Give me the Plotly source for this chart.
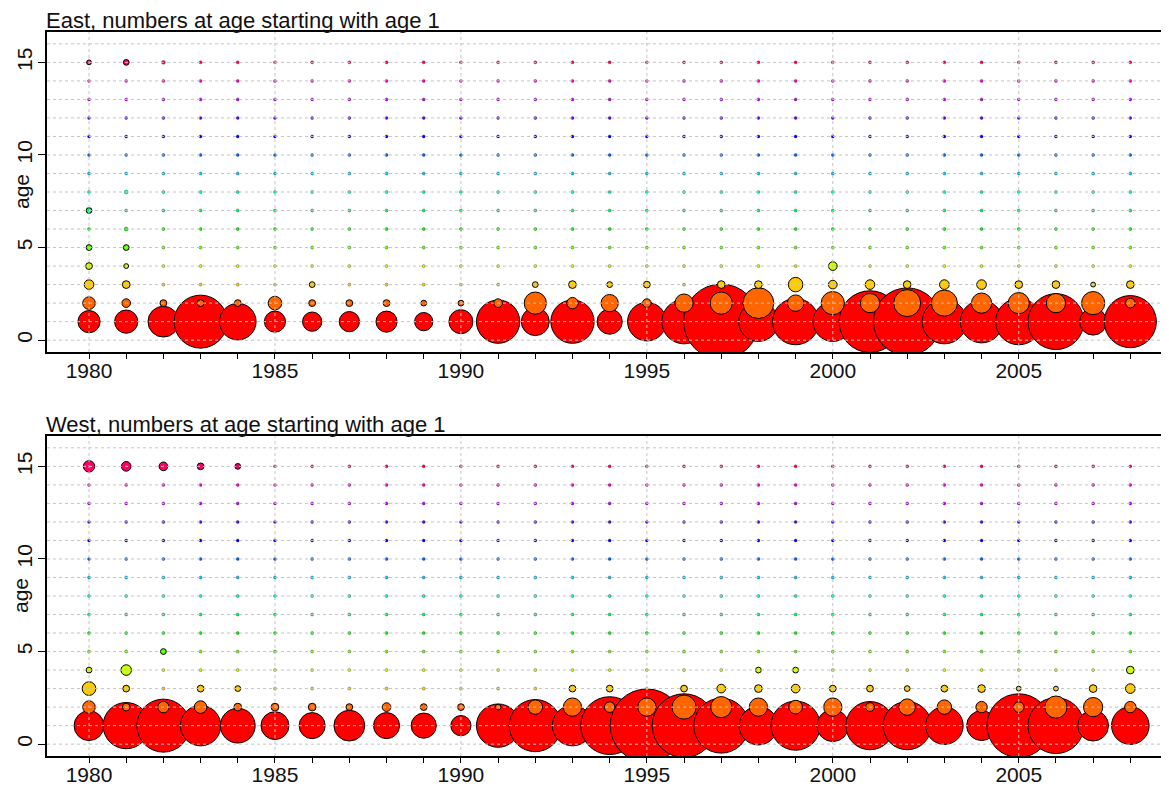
import colorsys
import plotly.graph_objects as go

years = list(range(1980, 2009))
ages = list(range(1, 16))
panel_titles = ["East, numbers at age starting with age 1",
                "West, numbers at age starting with age 1"]
x_tick_labels = ["1980", "1985", "1990", "1995", "2000", "2005"]
y_tick_labels = ["0", "5", "10", "15"]

# ---- East: numbers at age (arbitrary units), one list per age, years 1980..2008
east_age1 = [53, 58, 102, 302, 144, 48, 40, 44, 48, 36, 62, 202, 84, 202, 68, 160, 212, 608, 168, 230,
             168, 410, 490, 212, 194, 230, 336, 78, 292]
east_age2 = [17, 8, 5, 5, 5, 20, 5, 5, 5, 3.6, 3.6, 8, 53, 14, 32, 8, 36, 53, 102, 29,
             58, 40, 78, 73, 44, 48, 40, 58, 10]
east_age3 = [10, 6.4, 0.9, 0.4, 0.4, 0.4, 3.6, 0.9, 0.9, 0.9, 0.4, 0.9, 3.6, 6.4, 3.6, 4.9, 0.9, 6.4, 6.4, 22.5,
             8.1, 10, 6.4, 10, 10, 6.4, 6.4, 2.5, 6.4]
east_age4 = [4.9, 2.5, 0.9, 0.4, 0.4, 0.4, 0.4, 0.4, 0.4, 0.4, 0.4, 0.4, 0.4, 0.4, 0.9, 0.4, 0.4, 0.5, 0.4, 0.6,
             8.1, 0.4, 0.6, 0.4, 0.9, 0.5, 0.4, 0.4, 0.4]
east_age5 = [3.6, 3.6, 0.9, 0.5, 0.4, 0.4, 0.4, 0.4, 0.4, 0.3, 0.3, 0.4, 0.4, 0.4, 0.4, 0.4, 0.4, 0.5, 0.4, 0.5,
             0.4, 0.5, 0.4, 0.5, 0.4, 0.4, 0.4, 0.5, 0.4]
east_age6 = [0.9, 1.6, 0.5, 0.5, 0.4, 0.5, 0.4, 0.5, 0.4, 0.4, 0.4, 0.5, 0.4, 0.5, 0.4, 0.5, 0.4, 0.5, 0.4, 0.5,
             0.4, 0.5, 0.4, 0.5, 0.4, 0.5, 0.4, 0.5, 0.4]
east_age7 = [3.6, 0.9, 0.5, 0.5, 0.4, 0.5, 0.4, 0.5, 0.4, 0.4, 0.4, 0.5, 0.4, 0.5, 0.4, 0.5, 0.4, 0.5, 0.4, 0.5,
             0.4, 0.5, 0.4, 0.5, 0.4, 0.5, 0.4, 0.5, 0.4]
east_age8 = [0.4, 1.6, 0.5, 0.5, 0.4, 0.5, 0.4, 0.5, 0.4, 0.4, 0.4, 0.5, 0.4, 0.5, 0.4, 0.5, 0.4, 0.5, 0.4, 0.5,
             0.4, 0.5, 0.4, 0.5, 0.4, 0.5, 0.4, 0.5, 0.4]
east_age9 = [0.4, 0.6, 0.5, 0.6, 0.4, 0.5, 0.4, 0.6, 0.4, 0.4, 0.4, 0.5, 0.4, 0.5, 0.4, 0.5, 0.4, 0.6, 0.4, 0.5,
             0.4, 0.6, 0.4, 0.6, 0.4, 0.5, 0.4, 0.6, 0.4]
east_age10 = [0.4, 0.6, 0.5, 0.6, 0.4, 0.5, 0.4, 0.6, 0.4, 0.4, 0.4, 0.5, 0.4, 0.5, 0.4, 0.5, 0.4, 0.6, 0.4, 0.5,
              0.4, 0.6, 0.4, 0.6, 0.4, 0.5, 0.4, 0.6, 0.4]
east_age11 = [0.4, 0.7, 0.5, 0.7, 0.4, 0.6, 0.4, 0.6, 0.4, 0.4, 0.4, 0.6, 0.4, 0.5, 0.4, 0.6, 0.4, 0.6, 0.4, 0.6,
              0.4, 0.6, 0.4, 0.6, 0.4, 0.6, 0.4, 0.6, 0.4]
east_age12 = [0.4, 0.7, 0.5, 0.7, 0.4, 0.5, 0.4, 0.6, 0.4, 0.4, 0.4, 0.6, 0.4, 0.5, 0.4, 0.5, 0.4, 0.6, 0.4, 0.6,
              0.4, 0.6, 0.4, 0.6, 0.4, 0.5, 0.4, 0.6, 0.4]
east_age13 = [0.4, 0.7, 0.5, 0.7, 0.4, 0.5, 0.4, 0.6, 0.4, 0.4, 0.4, 0.5, 0.4, 0.5, 0.4, 0.5, 0.4, 0.6, 0.4, 0.6,
              0.4, 0.6, 0.4, 0.6, 0.4, 0.5, 0.4, 0.6, 0.4]
east_age14 = [0.4, 0.7, 0.5, 0.7, 0.4, 0.5, 0.4, 0.6, 0.4, 0.4, 0.4, 0.5, 0.4, 0.5, 0.4, 0.5, 0.4, 0.6, 0.4, 0.6,
              0.4, 0.6, 0.4, 0.6, 0.4, 0.5, 0.4, 0.6, 0.4]
east_age15 = [2.5, 3.6, 1.6, 0.9, 0.4, 0.5, 0.4, 0.6, 0.4, 0.4, 0.4, 0.5, 0.4, 0.5, 0.4, 0.6, 0.4, 0.6, 0.4, 0.6,
              0.4, 0.6, 0.4, 0.6, 0.4, 0.6, 0.4, 0.6, 0.4]

# ---- West
west_age1 = [96, 230, 302, 176, 130, 84, 73, 102, 73, 68, 44, 202, 292, 176, 360, 578, 436, 325, 160, 260,
             109, 250, 250, 152, 96, 436, 336, 102, 152]
west_age2 = [17, 6.4, 14, 17, 6.4, 6.4, 6.4, 4.9, 8.1, 4.9, 4.9, 3.6, 22.5, 36, 12, 36, 62, 48, 36, 20,
             36, 8.1, 29, 22.5, 14, 12, 53, 40, 14]
west_age3 = [20, 4.9, 0.9, 4.9, 3.6, 0.4, 0.9, 0.9, 0.9, 0.9, 0.4, 0.4, 0.4, 4.9, 4.9, 0.9, 4.9, 8.1, 6.4, 8.1,
             4.9, 4.9, 3.6, 4.9, 6.4, 2.5, 2.5, 6.4, 10]
west_age4 = [3.6, 12, 0.9, 0.4, 0.4, 0.4, 0.4, 0.4, 0.4, 0.4, 0.4, 0.4, 0.4, 0.4, 0.9, 0.9, 0.4, 0.9, 3.6, 3.6,
             0.4, 0.4, 0.9, 0.4, 0.9, 0.9, 0.4, 0.4, 6.4]
west_age5 = [0.4, 0.9, 3.6, 0.5, 0.4, 0.4, 0.4, 0.4, 0.4, 0.3, 0.3, 0.4, 0.4, 0.4, 0.4, 0.4, 0.4, 0.5, 0.4, 0.5,
             0.4, 0.5, 0.4, 0.5, 0.4, 0.4, 0.4, 0.5, 0.4]
west_age6 = [0.4, 0.6, 0.5, 0.9, 0.4, 0.6, 0.4, 0.5, 0.4, 0.4, 0.4, 0.5, 0.4, 0.5, 0.4, 0.5, 0.4, 0.5, 0.4, 0.5,
             0.4, 0.5, 0.4, 0.5, 0.4, 0.5, 0.4, 0.5, 0.4]
west_age7 = [0.4, 0.6, 0.5, 0.6, 0.4, 0.5, 0.4, 0.5, 0.4, 0.4, 0.4, 0.5, 0.4, 0.5, 0.4, 0.5, 0.4, 0.5, 0.4, 0.5,
             0.4, 0.5, 0.4, 0.5, 0.4, 0.5, 0.4, 0.5, 0.4]
west_age8 = [0.4, 0.6, 0.5, 0.6, 0.4, 0.5, 0.4, 0.6, 0.4, 0.4, 0.4, 0.5, 0.4, 0.5, 0.4, 0.5, 0.4, 0.5, 0.4, 0.5,
             0.4, 0.5, 0.4, 0.5, 0.4, 0.5, 0.4, 0.5, 0.4]
west_age9 = [0.4, 0.6, 0.5, 0.6, 0.4, 0.5, 0.4, 0.6, 0.4, 0.4, 0.4, 0.5, 0.4, 0.5, 0.4, 0.5, 0.4, 0.6, 0.4, 0.5,
             0.4, 0.6, 0.4, 0.6, 0.4, 0.5, 0.4, 0.6, 0.4]
west_age10 = [0.4, 0.7, 0.5, 0.6, 0.4, 0.6, 0.4, 0.6, 0.4, 0.4, 0.4, 0.5, 0.4, 0.5, 0.4, 0.5, 0.4, 0.6, 0.4, 0.5,
              0.4, 0.6, 0.4, 0.6, 0.4, 0.5, 0.4, 0.6, 0.4]
west_age11 = [0.4, 0.7, 0.5, 0.7, 0.4, 0.7, 0.4, 0.6, 0.4, 0.4, 0.4, 0.6, 0.4, 0.5, 0.4, 0.6, 0.4, 0.6, 0.4, 0.6,
              0.4, 0.6, 0.4, 0.6, 0.4, 0.6, 0.4, 0.6, 0.4]
west_age12 = [0.4, 0.7, 0.5, 0.7, 0.4, 0.6, 0.4, 0.6, 0.4, 0.4, 0.4, 0.6, 0.4, 0.5, 0.4, 0.5, 0.4, 0.6, 0.4, 0.6,
              0.4, 0.6, 0.4, 0.6, 0.4, 0.5, 0.4, 0.6, 0.4]
west_age13 = [0.4, 0.7, 0.5, 0.7, 0.4, 0.5, 0.4, 0.6, 0.4, 0.4, 0.4, 0.5, 0.4, 0.5, 0.4, 0.5, 0.4, 0.6, 0.4, 0.6,
              0.4, 0.6, 0.4, 0.6, 0.4, 0.5, 0.4, 0.6, 0.4]
west_age14 = [0.5, 0.7, 0.5, 0.7, 0.5, 0.6, 0.4, 0.6, 0.4, 0.4, 0.4, 0.5, 0.4, 0.5, 0.4, 0.5, 0.4, 0.6, 0.4, 0.6,
              0.4, 0.6, 0.4, 0.6, 0.4, 0.5, 0.4, 0.6, 0.4]
west_age15 = [14, 10, 8.1, 4.9, 3.6, 0.5, 0.4, 0.6, 0.4, 0.4, 0.4, 0.5, 0.4, 0.5, 0.4, 0.6, 0.4, 0.6, 0.4, 0.6,
              0.4, 0.6, 0.4, 0.6, 0.4, 0.6, 0.4, 0.6, 0.4]

east = [east_age1, east_age2, east_age3, east_age4, east_age5, east_age6, east_age7, east_age8,
        east_age9, east_age10, east_age11, east_age12, east_age13, east_age14, east_age15]
west = [west_age1, west_age2, west_age3, west_age4, west_age5, west_age6, west_age7, west_age8,
        west_age9, west_age10, west_age11, west_age12, west_age13, west_age14, west_age15]


def rainbow(i, n):
    r, g, b = colorsys.hsv_to_rgb(i / n, 1, 1)
    return "rgb(%d,%d,%d)" % (round(r * 255), round(g * 255), round(b * 255))


FONT = "Liberation Sans, Arial, sans-serif"
SIZEREF = 0.215

fig = go.Figure()
for p, data in enumerate([east, west]):
    xa = "x" if p == 0 else "x2"
    ya = "y" if p == 0 else "y2"
    for i, age in enumerate(ages):
        vals = data[i]
        fig.add_trace(go.Scatter(
            x=years, y=[age] * len(years), mode="markers",
            xaxis=xa, yaxis=ya, showlegend=False,
            marker=dict(size=vals, sizemode="area", sizeref=SIZEREF, sizemin=1.5,
                        color=rainbow(i, len(ages)), opacity=1,
                        line=dict(color="black", width=[1 if v >= 2 else 0.3 for v in vals])),
            hovertemplate="year %{x}<br>age %{y}<extra></extra>",
        ))

xr = [1978.87, 2009.04]
yr = [-0.64, 16.64]
tickvals_x = years
ticktext_x = [str(y) if str(y) in x_tick_labels else "" for y in years]
tickvals_y = [int(t) for t in y_tick_labels]

common_x = dict(range=xr, tickmode="array", tickvals=tickvals_x, ticktext=ticktext_x,
                ticks="outside", ticklen=5, tickwidth=1, tickcolor="black",
                showline=True, linecolor="black", linewidth=1.5, mirror=True,
                showgrid=False, zeroline=False, automargin=False, ticklabelstandoff=-6,
                tickfont=dict(family=FONT, size=21, color="#111"))
common_y = dict(range=yr, tickmode="array", tickvals=tickvals_y, ticktext=y_tick_labels,
                ticks="outside", ticklen=7, tickwidth=1, tickcolor="black", tickangle=-90,
                showline=True, linecolor="black", linewidth=1.5, mirror=False,
                showgrid=False, zeroline=False, automargin=False, ticklabelstandoff=-2,
                tickfont=dict(family=FONT, size=21, color="#111"))

# the page body adds an 8px offset; the figure is sized to compensate
fig.update_layout(
    width=1161, height=778,
    margin=dict(l=39, r=0, t=24, b=30, autoexpand=False),
    paper_bgcolor="white", plot_bgcolor="white",
    xaxis=dict(domain=[0, 1], anchor="y", **common_x),
    yaxis=dict(domain=[0.558, 1], anchor="x", **common_y),
    xaxis2=dict(domain=[0, 1], anchor="y2", **common_x),
    yaxis2=dict(domain=[0, 0.442], anchor="x2", **common_y),
)

# dotted grid drawn above the bubbles
grid = dict(color="#c4c4c4", width=1, dash="3px,3px")
shapes = []
annotations = []
for p in range(2):
    xs = "x" if p == 0 else "x2"
    ys = "y" if p == 0 else "y2"
    for gy in range(0, 17):
        shapes.append(dict(type="line", layer="above", xref=xs + " domain", yref=ys,
                           x0=0, x1=1, y0=gy, y1=gy, line=grid))
    for gx in x_tick_labels:
        shapes.append(dict(type="line", layer="above", xref=xs, yref=ys + " domain",
                           x0=int(gx), x1=int(gx), y0=0, y1=1, line=grid))
    annotations.append(dict(text=panel_titles[p], xref=xs + " domain", yref=ys + " domain",
                            x=0, y=1, xanchor="left", yanchor="bottom", yshift=-3, xshift=-3,
                            showarrow=False, font=dict(family=FONT, size=22, color="#111")))
    annotations.append(dict(text="age", xref="paper", yref=ys + " domain",
                            x=0, y=0.5, xshift=-26, xanchor="center", yanchor="middle",
                            textangle=-90, showarrow=False,
                            font=dict(family=FONT, size=21, color="#111")))

fig.update_layout(shapes=shapes, annotations=annotations)
fig.write_html("out.html")
